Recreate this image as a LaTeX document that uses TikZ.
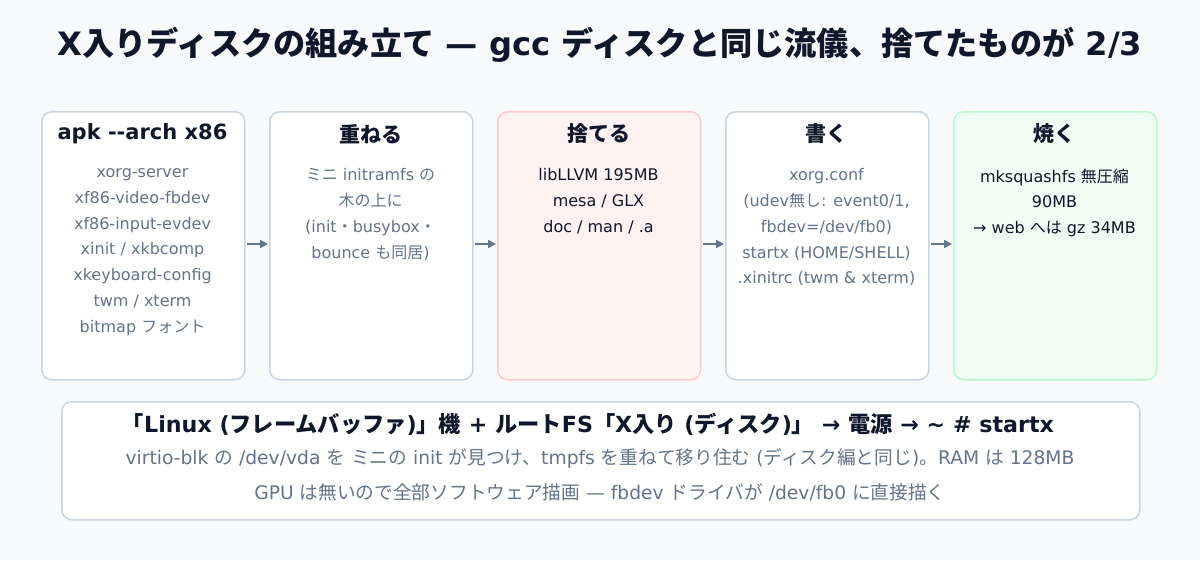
\documentclass[tikz,border=0pt]{standalone}
\usepackage{fontspec}
\setmainfont{DejaVu Sans}
\newfontfamily\jpfont{Noto Sans CJK JP}
\XeTeXinterchartokenstate=1
\newXeTeXintercharclass\JPclass
\newcount\jpc
\def\setjprange#1#2{\jpc=#1\relax\loop\XeTeXcharclass\jpc=\JPclass\ifnum\jpc<#2\advance\jpc by 1\repeat}
\setjprange{"3000}{"30FF}
\setjprange{"4E00}{"9FFF}
\setjprange{"FF00}{"FFEF}
\XeTeXinterchartoks 0 \JPclass = {\begingroup\jpfont}
\XeTeXinterchartoks 4095 \JPclass = {\begingroup\jpfont}
\XeTeXinterchartoks \JPclass 0 = {\endgroup}
\XeTeXinterchartoks \JPclass 4095 = {\endgroup}
\usetikzlibrary{arrows.meta}
\definecolor{bg}{HTML}{F8FAFC}
\definecolor{bd}{HTML}{CBD5E1}
\definecolor{muted}{HTML}{64748B}
\definecolor{ink}{HTML}{0F172A}
\definecolor{redfill}{HTML}{FEF2F2}
\definecolor{redbd}{HTML}{FECACA}
\definecolor{grnfill}{HTML}{F0FDF4}
\definecolor{grnbd}{HTML}{BBF7D0}
\tikzset{
  stage/.style={draw=bd, fill=white, line width=1.5pt, rounded corners=10pt, minimum width=203pt, minimum height=268pt, inner sep=0pt},
  head/.style={font=\fontsize{21}{24}\selectfont\bfseries, text=ink, anchor=center},
  body/.style={font=\fontsize{16}{25.8}\selectfont, text=muted, align=center, anchor=north},
  note/.style={font=\fontsize{18.7}{22}\selectfont, text=muted},
  flow/.style={draw=muted, line width=2pt, -{Triangle[length=8pt,width=8pt]}, shorten <=1pt, shorten >=1pt},
}
\begin{document}
\begin{tikzpicture}[x=1pt,y=-1pt]
\useasboundingbox (0,0) rectangle (1200,560);
\fill[bg] (0,0) rectangle (1200,560);
\node[font=\fontsize{32.2}{36}\selectfont\bfseries, text=ink] (title) at (600,45) {X入りディスクの組み立て — gcc ディスクと同じ流儀、捨てたものが 2/3};

\node[stage, anchor=north west] (s1) at (41,111) {};
\node[stage, anchor=north west] (s2) at (269,111) {};
\node[stage, anchor=north west, fill=redfill, draw=redbd] (s3) at (497,111) {};
\node[stage, anchor=north west] (s4) at (725,111) {};
\node[stage, anchor=north west, fill=grnfill, draw=grnbd] (s5) at (953,111) {};

\node[head] (h1) at (142.5,134) {apk -{}-arch x86};
\node[head] (h2) at (370.5,134) {重ねる};
\node[head] (h3) at (598.5,134) {捨てる};
\node[head] (h4) at (826.5,134) {書く};
\node[head] (h5) at (1054.5,134) {焼く};

\node[body] (b1) at (142.5,165) {xorg-server\\xf86-video-fbdev\\xf86-input-evdev\\xinit / xkbcomp\\xkeyboard-config\\twm / xterm\\bitmap フォント};
\node[body] (b2) at (370.5,165) {ミニ initramfs の\\木の上に\\(init・busybox・\\bounce も同居)};
\node[body, text=ink] (b3) at (598.5,165) {libLLVM 195MB\\mesa / GLX\\doc / man / .a};
\node[body] (b4) at (826.5,165) {xorg.conf\\(udev無し: event0/1,\\fbdev=/dev/fb0)\\startx (HOME/SHELL)\\.xinitrc (twm \& xterm)};
\node[body, text=ink] (b5) at (1054.5,165) {mksquashfs 無圧縮\\90MB\\→ web へは gz 34MB};

\draw[flow] (s1.east |- 0,244) -- (s2.west |- 0,244);
\draw[flow] (s2.east |- 0,244) -- (s3.west |- 0,244);
\draw[flow] (s3.east |- 0,244) -- (s4.west |- 0,244);
\draw[flow] (s4.east |- 0,244) -- (s5.west |- 0,244);

\node[draw=bd, fill=white, line width=1.5pt, rounded corners=10pt, minimum width=1078pt, minimum height=118pt, anchor=north west] (bottom) at (61,401) {};
\node[font=\fontsize{22.2}{26}\selectfont\bfseries, text=ink] (l1) at (588,424) {「Linux (フレームバッファ)」機 + ルートFS「X入り (ディスク)」 → 電源 → \textasciitilde{} \# startx};
\node[note] (l2) at (600,458) {virtio-blk の /dev/vda を ミニの init が見つけ、tmpfs を重ねて移り住む (ディスク編と同じ)。RAM は 128MB};
\node[note] (l3) at (600,492) {GPU は無いので全部ソフトウェア描画 — fbdev ドライバが /dev/fb0 に直接描く};
\end{tikzpicture}
\end{document}
